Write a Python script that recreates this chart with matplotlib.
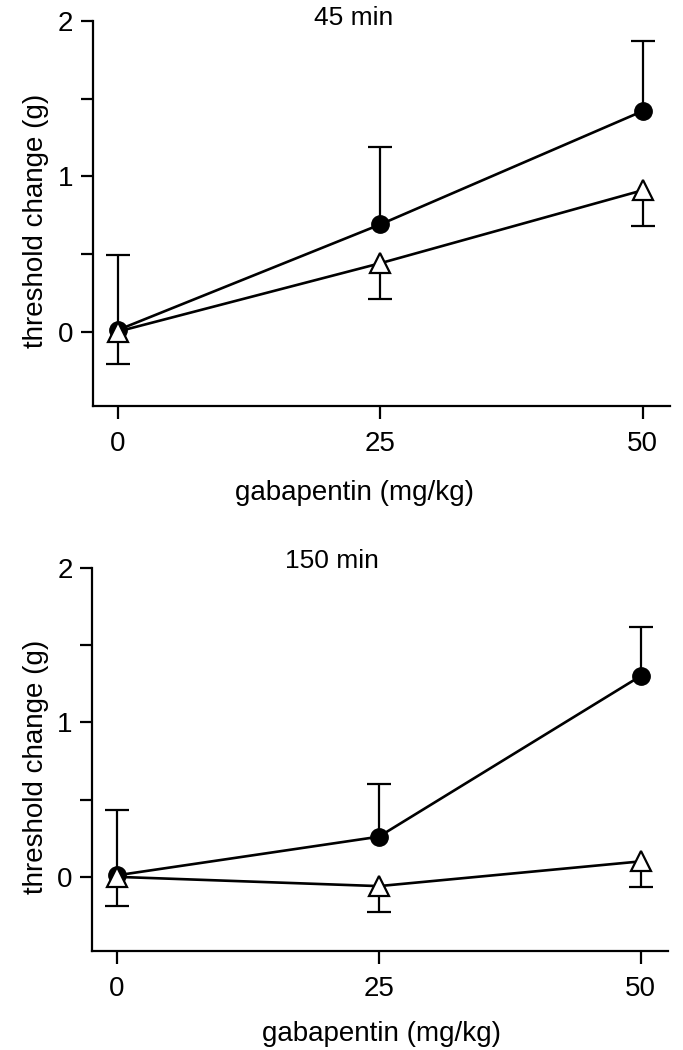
import numpy as np
import matplotlib
matplotlib.use("Agg")
import matplotlib.pyplot as plt
from matplotlib.ticker import MultipleLocator

plt.rcParams['font.family'] = ['Liberation Sans Narrow', 'Liberation Sans', 'DejaVu Sans']

# doses
dose = [0, 25, 50]

# 45 min
circ_45 = [0.01, 0.69, 1.42]
circ_45_hi = [0.49, 1.19, 1.87]
tri_45 = [0.0, 0.44, 0.91]
tri_45_lo = [-0.21, 0.21, 0.68]

# 150 min
circ_150 = [0.01, 0.26, 1.30]
circ_150_hi = [0.43, 0.60, 1.62]
tri_150 = [0.0, -0.06, 0.10]
tri_150_lo = [-0.19, -0.23, -0.065]

# title / label placement (axes fractions)
panels = [
    dict(title="45 min", cy=circ_45, chi=circ_45_hi, ty=tri_45, tlo=tri_45_lo,
         rect=[0.136, 0.6133, 0.845, 0.3667], tpos=(0.452, 1.007), xlab=(0.454, -0.226)),
    dict(title="150 min", cy=circ_150, chi=circ_150_hi, ty=tri_150, tlo=tri_150_lo,
         rect=[0.1347, 0.0943, 0.843, 0.3648], tpos=(0.417, 1.018), xlab=(0.503, -0.218)),
]

fig = plt.figure(figsize=(6.83, 10.5), dpi=100)

for p in panels:
    ax = fig.add_axes(p['rect'])
    # circles: line + upper error
    ax.vlines(dose, p['cy'], p['chi'], color='black', lw=1.6, zorder=2)
    ax.plot(dose, p['chi'], ls='none', marker='_', ms=17, mew=1.6, color='black', zorder=2)
    ax.plot(dose, p['cy'], color='black', lw=1.9, marker='o', ms=12.5,
            mfc='black', mec='black', zorder=3)
    # triangles: line + lower error
    ax.vlines(dose, p['tlo'], p['ty'], color='black', lw=1.6, zorder=2)
    ax.plot(dose, p['tlo'], ls='none', marker='_', ms=17, mew=1.6, color='black', zorder=2)
    ax.plot(dose, p['ty'], color='black', lw=1.9, marker='^', ms=14,
            mfc='white', mec='black', mew=1.6, zorder=4)

    ax.set_xlim(-2.4, 52.6)
    ax.set_ylim(-0.48, 2.0)
    ax.set_xticks(dose)
    ax.set_yticks([0, 1, 2])
    ax.yaxis.set_minor_locator(MultipleLocator(0.5))
    ax.spines['top'].set_visible(False)
    ax.spines['right'].set_visible(False)
    ax.spines['left'].set_linewidth(1.6)
    ax.spines['bottom'].set_linewidth(1.6)
    ax.tick_params(axis='both', which='both', direction='out', width=1.6,
                   labelsize=20, colors='black')
    ax.tick_params(axis='y', which='both', length=9, pad=5)
    ax.tick_params(axis='x', length=9, pad=9)

    ax.text(p['tpos'][0], p['tpos'][1], p['title'], transform=ax.transAxes,
            ha='center', va='center', fontsize=19)
    ax.set_xlabel("gabapentin (mg/kg)", fontsize=20, va='center')
    ax.xaxis.set_label_coords(*p['xlab'])
    ax.set_ylabel("threshold change (g)", fontsize=20, va='center')
    ax.yaxis.set_label_coords(-0.098, 0.48)

fig.savefig("out.png", dpi=100)
